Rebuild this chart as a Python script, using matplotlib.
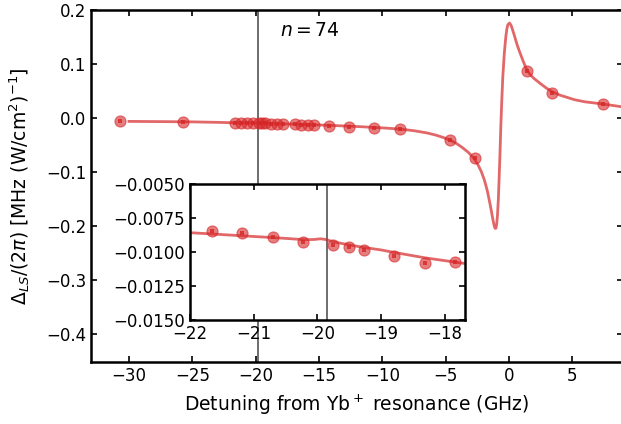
import matplotlib
matplotlib.use("Agg")
from matplotlib import pyplot as plt

plt.rcParams['font.size'] = 12
plt.rcParams['mathtext.fontset'] = 'dejavusans'

# measured light shift points (GHz, MHz/(W/cm^2))
det = [-30.7, -25.73, -21.66, -21.19, -20.70, -20.22, -19.75, -19.51, -19.27,
       -18.80, -18.31, -17.84, -16.9, -16.4, -15.9, -15.4, -14.2, -12.67,
       -10.69, -8.65, -4.67, -2.69, 1.38, 3.38, 7.39]
shift = [-0.0060, -0.0072, -0.00846, -0.00863, -0.00892, -0.00926, -0.00949,
         -0.00961, -0.00985, -0.01027, -0.01079, -0.01076, -0.0116, -0.0120,
         -0.0124, -0.0128, -0.0140, -0.0158, -0.0176, -0.0204, -0.0400,
         -0.0746, 0.0876, 0.0469, 0.0265]

# model curve
fit_x = [-30.0, -27.0, -25.0, -23.0, -22.0, -21.5, -21.0, -20.5, -20.2, -20.05,
         -19.95, -19.87, -19.75, -19.5, -19.28, -19.0, -18.81, -18.31, -17.71,
         -17.5, -17.0, -16.0, -15.0, -14.0, -12.0, -10.0, -8.65, -7.5, -6.5,
         -5.8, -5.2, -4.67, -4.2, -3.7, -3.2, -2.77, -2.45, -2.2, -1.95, -1.72,
         -1.50, -1.35, -1.24, -1.16, -1.10, -1.04, -0.98, -0.92, -0.85, -0.79,
         -0.72, -0.66, -0.58, -0.50, -0.38, -0.26, -0.18, -0.1, 0.03, 0.15,
         0.28, 0.40, 0.6, 0.79, 1.0, 1.2, 1.40, 1.7, 1.98, 2.51, 3.0, 3.38,
         4.0, 5.15, 6.0, 7.34, 9.0]
fit_y = [-0.0062, -0.0067, -0.0071, -0.0080, -0.00858, -0.00872, -0.00886,
         -0.00900, -0.00910, -0.00908, -0.00903, -0.00908, -0.00925, -0.00948,
         -0.00966, -0.00985, -0.01002, -0.01043, -0.01083, -0.01095, -0.0113,
         -0.0120, -0.0128, -0.0137, -0.0157, -0.0182, -0.0204, -0.0235, -0.0275,
         -0.0315, -0.0360, -0.0410, -0.0465, -0.0545, -0.0640, -0.0750, -0.0870,
         -0.0990, -0.1150, -0.1350, -0.1600, -0.1790, -0.1930, -0.2010, -0.2045,
         -0.2040, -0.1960, -0.1800, -0.1500, -0.1120, -0.0650, -0.0180, 0.0320,
         0.0760, 0.1200, 0.1510, 0.1650, 0.1730, 0.1760, 0.1720, 0.1630, 0.1540,
         0.1380, 0.1250, 0.1120, 0.1000, 0.0890, 0.0795, 0.0730, 0.0630, 0.0545,
         0.0490, 0.0425, 0.0340, 0.0300, 0.0262, 0.0205]

rydberg = -19.85
red = '#d62728'

fig = plt.figure(figsize=(6.21, 4.24), dpi=100)
ax = fig.add_axes([0.1465, 0.1462, 0.857, 0.830])

def draw(a):
    a.axvline(rydberg, color='#555555', lw=1.2, zorder=1)
    a.plot(fit_x, fit_y, color=red, alpha=0.7, lw=2, zorder=2)
    a.plot(det, shift, 'o', color=red, alpha=0.6, ms=8, mew=0.8, zorder=3)
    a.plot(det, shift, 's', color=red, alpha=0.8, ms=2.2, mew=0, zorder=4)
    a.tick_params(direction='in', top=True, right=True, length=4, width=1.2,
                  labelsize=12)
    for s in a.spines.values():
        s.set_linewidth(1.8)

draw(ax)
ax.set_xlim(-33, 9)
ax.set_ylim(-0.452, 0.2)
ax.set_xticks([-30, -25, -20, -15, -10, -5, 0, 5])
ax.set_yticks([0.2, 0.1, 0.0, -0.1, -0.2, -0.3, -0.4])
ax.set_xlabel('Detuning from Yb$^+$ resonance (GHz)', fontsize=13.5, labelpad=6)
ax.set_ylabel(r'$\Delta_{LS}/(2\pi)$ [MHz (W/cm$^2$)$^{-1}$]', fontsize=13.5,
              labelpad=10)
ax.text(-18.1, 0.163, '$n = 74$', va='center', ha='left', fontsize=13.5)

ins = fig.add_axes([0.306, 0.2453, 0.443, 0.3208])
draw(ins)
ins.set_xlim(-22, -17.68)
ins.set_ylim(-0.015, -0.005)
ins.set_xticks([-22, -21, -20, -19, -18])
ins.set_yticks([-0.005, -0.0075, -0.01, -0.0125, -0.015])
ins.set_yticklabels(['\u22120.0050', '\u22120.0075', '\u22120.0100', '\u22120.0125', '\u22120.0150'])

fig.savefig('out.png', dpi=100)
